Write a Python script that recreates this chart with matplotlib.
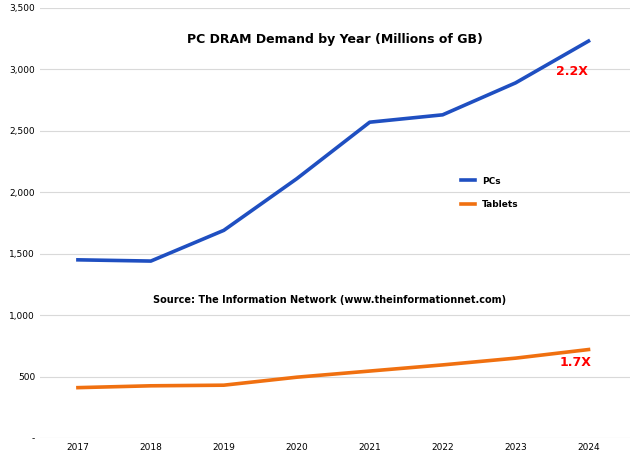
import numpy as np
import matplotlib.pyplot as plt
from matplotlib.ticker import FuncFormatter

# --- 1. Data ---
years = np.arange(2017, 2025)
pcs = [1450, 1440, 1690, 2110, 2570, 2630, 2890, 3230]
tablets = [410, 425, 430, 495, 545, 595, 650, 720]

# --- 2. Plot ---
plt.figure(figsize=(6.4, 4.65))
plt.axes([0.0625, 0.058, 0.922, 0.925])
plt.plot(years, pcs, color="#1f4fc1", linewidth=2.6, label="PCs")
plt.plot(years, tablets, color="#f07010", linewidth=2.6, label="Tablets")
plt.xlim(2016.48, 2024.57)
plt.ylim(0, 3500)
plt.yticks(np.arange(0, 3501, 500))
plt.gca().yaxis.set_major_formatter(FuncFormatter(lambda v, p: "-" if v == 0 else f"{int(v):,}"))
plt.tick_params(labelsize=6.5, length=0)
plt.grid(axis="y", color="#d9d9d9", linewidth=0.8)
for s in plt.gca().spines.values():
    s.set_visible(False)
plt.title("PC DRAM Demand by Year (Millions of GB)", fontsize=9, fontweight="bold", y=0.9)
plt.text(2020.45, 1100, "Source: The Information Network (www.theinformationnet.com)",
         fontsize=7, fontweight="bold", ha="center")
plt.text(2023.55, 2950, "2.2X", color="red", fontsize=9, fontweight="bold")
plt.text(2023.6, 585, "1.7X", color="red", fontsize=9, fontweight="bold")
plt.legend(loc="center left", bbox_to_anchor=(0.7, 0.57), frameon=False, fontsize=6.5,
           handlelength=1.5, labelspacing=1.6, prop={"weight": "bold", "size": 6.5})
plt.savefig("out.png", dpi=100)
